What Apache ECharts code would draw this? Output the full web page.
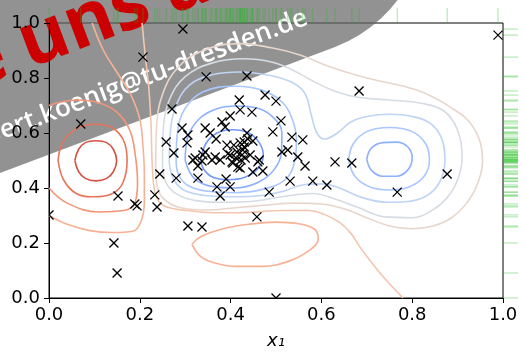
<!DOCTYPE html>
<html>
<head>
<meta charset="utf-8">
<script src="https://cdn.jsdelivr.net/npm/echarts@6/dist/echarts.min.js"></script>
<style>
  html, body { margin: 0; padding: 0; background: #fff; }
  #chart { width: 525px; height: 361px; }
</style>
</head>
<body>
<div id="chart"></div>
<script>
// axis ticks
const tickLabels = ['0.0', '0.2', '0.4', '0.6', '0.8', '1.0'];

const samples = [
  [0.295, 0.978], [0.207, 0.876], [0.346, 0.804], [0.436, 0.807], [0.070, 0.633],
  [0.271, 0.687], [0.683, 0.753], [0.989, 0.956], [0.000, 0.302], [0.476, 0.738],
  [0.500, 0.716], [0.419, 0.720], [0.421, 0.684], [0.447, 0.676], [0.399, 0.662],
  [0.381, 0.640], [0.511, 0.644], [0.388, 0.622], [0.344, 0.618], [0.355, 0.600],
  [0.293, 0.618], [0.306, 0.593], [0.493, 0.604], [0.436, 0.600], [0.535, 0.585],
  [0.559, 0.575], [0.258, 0.567], [0.304, 0.564], [0.368, 0.578], [0.449, 0.571],
  [0.392, 0.556], [0.430, 0.549], [0.421, 0.564], [0.275, 0.527], [0.344, 0.531],
  [0.366, 0.513], [0.399, 0.520], [0.412, 0.509], [0.513, 0.531], [0.526, 0.538],
  [0.548, 0.513], [0.317, 0.502], [0.328, 0.480], [0.337, 0.498], [0.377, 0.502],
  [0.405, 0.491], [0.421, 0.473], [0.463, 0.502], [0.564, 0.480], [0.630, 0.495],
  [0.667, 0.491], [0.471, 0.462], [0.449, 0.458], [0.244, 0.451], [0.280, 0.436],
  [0.328, 0.436], [0.390, 0.433], [0.399, 0.404], [0.370, 0.404], [0.377, 0.371],
  [0.485, 0.385], [0.531, 0.425], [0.581, 0.425], [0.612, 0.411], [0.233, 0.375],
  [0.238, 0.331], [0.458, 0.295], [0.152, 0.371], [0.189, 0.342], [0.194, 0.335],
  [0.306, 0.262], [0.337, 0.258], [0.500, 0.000], [0.143, 0.200], [0.150, 0.091],
  [0.767, 0.385], [0.877, 0.451], [0.427, 0.538], [0.438, 0.578], [0.394, 0.524],
  [0.403, 0.495], [0.416, 0.476], [0.359, 0.502], [0.339, 0.520], [0.460, 0.495],
  [0.322, 0.509], [0.425, 0.520], [0.432, 0.509], [0.414, 0.531], [0.423, 0.502],
  [0.443, 0.520], [0.407, 0.556], [0.430, 0.567]
];

// contour lines of the background surface (lowest level first)
const ringA1 = [[0.335,0.50],[0.345,0.56],[0.37,0.60],[0.405,0.612],[0.44,0.60],[0.463,0.565],[0.472,0.52],[0.46,0.47],[0.43,0.438],[0.395,0.43],[0.36,0.44],[0.34,0.47],[0.335,0.50]];
const ringA2 = [[0.30,0.50],[0.305,0.58],[0.33,0.65],[0.37,0.688],[0.41,0.698],[0.46,0.69],[0.495,0.655],[0.513,0.60],[0.512,0.53],[0.495,0.465],[0.46,0.42],[0.41,0.40],[0.36,0.405],[0.32,0.435],[0.30,0.50]];
const ringB1 = [[0.70,0.505],[0.71,0.545],[0.735,0.565],[0.765,0.567],[0.79,0.55],[0.80,0.51],[0.79,0.465],[0.765,0.443],[0.735,0.443],[0.71,0.465],[0.70,0.505]];
const ringA3 = [[0.28,0.50],[0.283,0.60],[0.30,0.69],[0.34,0.75],[0.41,0.77],[0.47,0.755],[0.515,0.71],[0.538,0.64],[0.545,0.57],[0.54,0.49],[0.52,0.43],[0.47,0.395],[0.41,0.383],[0.35,0.388],[0.305,0.41],[0.285,0.45],[0.28,0.50]];
const ringB2 = [[0.66,0.50],[0.67,0.56],[0.70,0.605],[0.75,0.62],[0.80,0.605],[0.83,0.56],[0.838,0.50],[0.825,0.44],[0.79,0.402],[0.75,0.393],[0.71,0.402],[0.675,0.44],[0.66,0.50]];
const ringM1 = [[0.265,0.49],[0.267,0.60],[0.28,0.70],[0.31,0.775],[0.36,0.812],[0.42,0.822],[0.49,0.808],[0.54,0.78],[0.565,0.74],[0.577,0.67],[0.59,0.60],[0.607,0.578],[0.635,0.60],[0.665,0.64],[0.70,0.66],[0.75,0.668],[0.80,0.66],[0.84,0.635],[0.865,0.58],[0.872,0.50],[0.86,0.42],[0.83,0.37],[0.785,0.35],[0.745,0.348],[0.69,0.365],[0.64,0.40],[0.60,0.415],[0.555,0.41],[0.52,0.39],[0.47,0.373],[0.41,0.368],[0.35,0.372],[0.30,0.39],[0.275,0.43],[0.265,0.49]];
const ringM2 = [[0.25,0.49],[0.252,0.62],[0.265,0.72],[0.30,0.805],[0.36,0.855],[0.43,0.87],[0.49,0.858],[0.535,0.83],[0.58,0.79],[0.63,0.752],[0.68,0.73],[0.75,0.72],[0.82,0.708],[0.87,0.68],[0.90,0.61],[0.91,0.51],[0.90,0.43],[0.877,0.365],[0.84,0.315],[0.80,0.292],[0.74,0.295],[0.68,0.33],[0.63,0.36],[0.58,0.38],[0.52,0.37],[0.45,0.352],[0.38,0.348],[0.32,0.355],[0.275,0.385],[0.255,0.43],[0.25,0.49]];
const ringM3 = [[0.235,0.48],[0.237,0.62],[0.25,0.74],[0.285,0.84],[0.34,0.90],[0.42,0.925],[0.49,0.91],[0.553,0.884],[0.62,0.84],[0.70,0.80],[0.81,0.756],[0.883,0.695],[0.934,0.622],[0.955,0.50],[0.945,0.42],[0.92,0.345],[0.885,0.29],[0.846,0.262],[0.80,0.252],[0.75,0.262],[0.70,0.292],[0.655,0.322],[0.60,0.342],[0.54,0.345],[0.48,0.338],[0.41,0.328],[0.35,0.32],[0.29,0.328],[0.25,0.365],[0.237,0.42],[0.235,0.48]];
const lineL7 = [[0.205,1.0],[0.212,0.88],[0.22,0.76],[0.225,0.62],[0.227,0.50],[0.233,0.385],[0.245,0.345],[0.265,0.328],[0.304,0.318],[0.36,0.31],[0.42,0.31],[0.515,0.318],[0.57,0.318],[0.605,0.305],[0.64,0.275],[0.665,0.235],[0.685,0.185],[0.71,0.13],[0.74,0.07],[0.78,0.0]];
const ellipseC = [[0.315,0.195],[0.333,0.222],[0.38,0.25],[0.44,0.268],[0.50,0.276],[0.55,0.27],[0.585,0.25],[0.593,0.215],[0.575,0.175],[0.53,0.135],[0.47,0.115],[0.41,0.115],[0.36,0.13],[0.333,0.152],[0.315,0.195]];
const lineR4 = [[0,0.30],[0.04,0.268],[0.09,0.245],[0.14,0.238],[0.185,0.243],[0.203,0.28],[0.21,0.35],[0.21,0.45],[0.207,0.55],[0.20,0.65],[0.18,0.74],[0.15,0.82],[0.12,0.90],[0.095,1.0]];
const lineR3 = [[0,0.40],[0.04,0.345],[0.11,0.313],[0.165,0.318],[0.19,0.35],[0.195,0.42],[0.19,0.52],[0.178,0.61],[0.15,0.675],[0.11,0.71],[0.06,0.72],[0.02,0.71],[0,0.70]];
const ringR2 = [[0.02,0.50],[0.03,0.565],[0.06,0.615],[0.10,0.632],[0.14,0.618],[0.165,0.57],[0.172,0.50],[0.163,0.42],[0.14,0.38],[0.10,0.368],[0.06,0.38],[0.032,0.43],[0.02,0.50]];
const ringR1 = [[0.057,0.50],[0.065,0.54],[0.08,0.565],[0.103,0.572],[0.127,0.565],[0.142,0.54],[0.149,0.50],[0.142,0.46],[0.127,0.435],[0.103,0.426],[0.08,0.435],[0.065,0.46],[0.057,0.50]];

// level index of each contour
const contours = [
  [ringA1, 0], [ringA2, 1], [ringB1, 1], [ringA3, 2], [ringB2, 2],
  [ringM1, 3], [ringM2, 4], [ringM3, 5], [lineL7, 6], [ellipseC, 7],
  [lineR4, 7], [lineR3, 8], [ringR2, 9], [ringR1, 10]
];

// coolwarm, sampled at the contour levels
const levelColors = ['#7399f5', '#8fb1fd', '#aac7fd', '#c0d4f5', '#d6dce4', '#e8d6cc',
  '#f4c6af', '#f7b194', '#f39577', '#e7745b', '#d65244'];

const chart = echarts.init(document.getElementById('chart'));

const axisFont = { color: '#000', fontSize: 18, fontFamily: 'DejaVu Sans' };
const fmt = v => tickLabels[Math.round(v / 0.2)];
const RUG = 'rgba(30,190,30,0.5)';

const contourSeries = contours.map(([pts, lvl]) => ({
  type: 'line', xAxisIndex: 0, yAxisIndex: 0, data: pts,
  smooth: 0.4, showSymbol: false, silent: true, z: 2,
  lineStyle: { color: levelColors[lvl], width: 1.6 }
}));

// "x" markers, clipped to the plot area like matplotlib does
function renderCross(params, api) {
  const c = api.coord([api.value(0), api.value(1)]);
  const h = 4.5;
  const st = { stroke: '#000', lineWidth: 1.3 };
  return {
    type: 'group',
    children: [
      { type: 'line', shape: { x1: c[0] - h, y1: c[1] - h, x2: c[0] + h, y2: c[1] + h }, style: st },
      { type: 'line', shape: { x1: c[0] - h, y1: c[1] + h, x2: c[0] + h, y2: c[1] - h }, style: st }
    ]
  };
}

chart.setOption({
  animation: false,
  backgroundColor: '#fff',
  grid: [
    { left: 49, right: 22, top: 23, bottom: 63, show: true, borderColor: '#000', borderWidth: 1 },
    { left: 49, right: 22, top: 8, height: 15 },
    { left: 503, width: 15, top: 23, bottom: 63 }
  ],
  xAxis: [
    {
      type: 'value', gridIndex: 0, min: 0, max: 1, interval: 0.2,
      axisLine: { show: true, lineStyle: { color: '#000', width: 1 } },
      axisTick: { show: true, length: 5, lineStyle: { color: '#000' } },
      axisLabel: Object.assign({ margin: 8, formatter: fmt }, axisFont),
      splitLine: { show: false },
      name: 'x₁', nameLocation: 'middle', nameGap: 34,
      nameTextStyle: { color: '#000', fontSize: 18, fontStyle: 'italic', fontFamily: 'DejaVu Sans' }
    },
    { type: 'value', gridIndex: 1, min: 0, max: 1, show: false },
    { type: 'value', gridIndex: 2, min: 0, max: 1, show: false }
  ],
  yAxis: [
    {
      type: 'value', gridIndex: 0, min: 0, max: 1, interval: 0.2,
      axisLine: { show: true, lineStyle: { color: '#000', width: 1 } },
      axisTick: { show: true, length: 5, lineStyle: { color: '#000' } },
      axisLabel: Object.assign({ margin: 9, formatter: fmt }, axisFont),
      splitLine: { show: false }
    },
    { type: 'value', gridIndex: 1, min: 0, max: 1, show: false },
    { type: 'value', gridIndex: 2, min: 0, max: 1, show: false }
  ],
  series: contourSeries.concat([
    {
      type: 'custom', xAxisIndex: 0, yAxisIndex: 0, data: samples, clip: true, z: 5,
      renderItem: renderCross, silent: true
    },
    {
      type: 'scatter', xAxisIndex: 1, yAxisIndex: 1, data: samples.map(p => [p[0], 0.5]),
      symbol: 'rect', symbolSize: [1, 15], silent: true,
      itemStyle: { color: RUG }
    },
    {
      type: 'scatter', xAxisIndex: 2, yAxisIndex: 2, data: samples.map(p => [0.5, p[1]]),
      symbol: 'rect', symbolSize: [15, 1], silent: true,
      itemStyle: { color: RUG }
    }
  ]),
  graphic: [{
    type: 'group', x: 0, y: 173, rotation: 0.36, z: 100,
    children: [
      { type: 'rect', shape: { x: -300, y: -280, width: 798, height: 280, r: [0, 140, 140, 0] },
        style: { fill: 'rgba(100,100,100,0.7)' } },
      { type: 'text', x: 342, y: -38,
        style: { text: 'robert.koenig@tu-dresden.de', fill: '#fff', fontSize: 26, fontWeight: 600,
                 fontFamily: 'Open Sans', align: 'right', textAlign: 'right',
                 verticalAlign: 'middle', textVerticalAlign: 'middle' } },
      { type: 'text', x: 46, y: -109,
        style: { text: 'Schreibe', fill: '#cc0000', fontSize: 74, fontWeight: 'bold',
                 fontFamily: 'Open Sans', align: 'right', textAlign: 'right',
                 verticalAlign: 'middle', textVerticalAlign: 'middle' } },
      { type: 'text', x: 64, y: -109,
        style: { text: 'uns an', fill: '#cc0000', fontSize: 74, fontWeight: 'bold',
                 fontFamily: 'Open Sans', align: 'left', textAlign: 'left',
                 verticalAlign: 'middle', textVerticalAlign: 'middle' } }
    ]
  }]
});
</script>
</body>
</html>
